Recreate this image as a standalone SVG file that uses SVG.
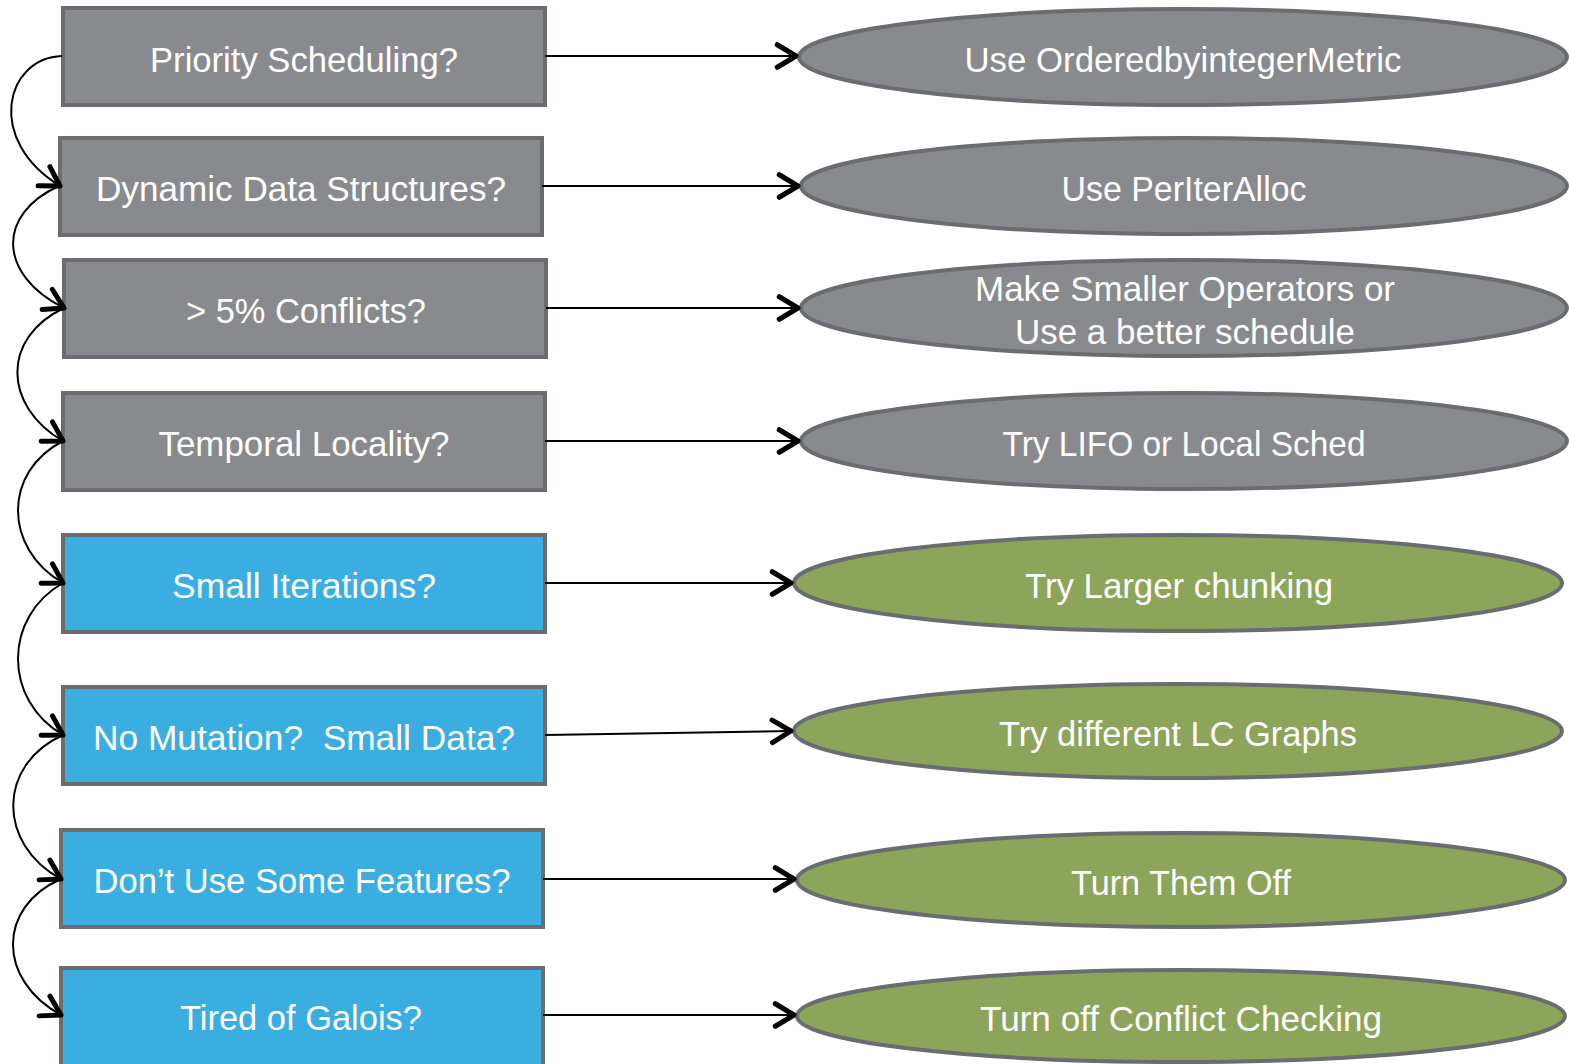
<svg xmlns="http://www.w3.org/2000/svg" width="1569" height="1064" viewBox="0 0 1569 1064">
  <style>
    .box { stroke: #6b6c70; stroke-width: 4; }
    .gray { fill: #898a8e; }
    .blue { fill: #3baee1; }
    .green { fill: #8ca55b; }
    .lbl { font-family: "Liberation Sans", Arial, sans-serif; font-size: 35px; fill: #ffffff; text-anchor: middle; }
    .link { fill: none; stroke: #000000; stroke-width: 2; }
  </style>
  <defs>
    <marker id="chev" markerUnits="userSpaceOnUse" markerWidth="30" markerHeight="30" viewBox="-18 -12 22 24" refX="0" refY="0" orient="auto">
      <path d="M-15,-9 L0,0 L-15,9" fill="none" stroke="#000000" stroke-width="4" stroke-linecap="round" stroke-linejoin="round"/>
    </marker>
  </defs>

  <rect width="1569" height="1064" fill="#ffffff"/>

  <!-- question boxes -->
  <g id="q-priority"><rect class="box gray" x="63" y="8" width="482" height="97"/><text class="lbl" x="304" y="72" textLength="308" lengthAdjust="spacingAndGlyphs">Priority Scheduling?</text></g>
  <g id="q-dynamic"><rect class="box gray" x="60" y="138" width="482" height="97"/><text class="lbl" x="301" y="201" textLength="410" lengthAdjust="spacingAndGlyphs">Dynamic Data Structures?</text></g>
  <g id="q-conflicts"><rect class="box gray" x="64" y="260" width="482" height="97"/><text class="lbl" x="306" y="323" textLength="240" lengthAdjust="spacingAndGlyphs">&gt; 5% Conflicts?</text></g>
  <g id="q-locality"><rect class="box gray" x="63" y="393" width="482" height="97"/><text class="lbl" x="304" y="456" textLength="291" lengthAdjust="spacingAndGlyphs">Temporal Locality?</text></g>
  <g id="q-iterations"><rect class="box blue" x="63" y="535" width="482" height="97"/><text class="lbl" x="304" y="598" textLength="264" lengthAdjust="spacingAndGlyphs">Small Iterations?</text></g>
  <g id="q-mutation"><rect class="box blue" x="63" y="687" width="482" height="97"/><text class="lbl" x="304" y="750" textLength="422" lengthAdjust="spacingAndGlyphs" xml:space="preserve">No Mutation?  Small Data?</text></g>
  <g id="q-features"><rect class="box blue" x="61" y="830" width="482" height="97"/><text class="lbl" x="302" y="893" textLength="417" lengthAdjust="spacingAndGlyphs">Don’t Use Some Features?</text></g>
  <g id="q-tired"><rect class="box blue" x="61" y="968" width="482" height="100"/><text class="lbl" x="301" y="1030" textLength="242" lengthAdjust="spacingAndGlyphs">Tired of Galois?</text></g>

  <!-- answer ellipses -->
  <g id="a-ordered"><ellipse class="box gray" cx="1183" cy="57" rx="384" ry="48"/><text class="lbl" x="1183" y="72" textLength="437" lengthAdjust="spacingAndGlyphs">Use OrderedbyintegerMetric</text></g>
  <g id="a-periter"><ellipse class="box gray" cx="1184" cy="186" rx="383" ry="48"/><text class="lbl" x="1184" y="201" textLength="245" lengthAdjust="spacingAndGlyphs">Use PerIterAlloc</text></g>
  <g id="a-smaller"><ellipse class="box gray" cx="1184" cy="308" rx="383" ry="48"/><text class="lbl" x="1185" y="301" textLength="420" lengthAdjust="spacingAndGlyphs">Make Smaller Operators or</text><text class="lbl" x="1185" y="344" textLength="340" lengthAdjust="spacingAndGlyphs">Use a better schedule</text></g>
  <g id="a-lifo"><ellipse class="box gray" cx="1184" cy="441" rx="383" ry="48"/><text class="lbl" x="1184" y="456" textLength="363" lengthAdjust="spacingAndGlyphs">Try LIFO or Local Sched</text></g>
  <g id="a-chunking"><ellipse class="box green" cx="1178" cy="583" rx="384" ry="48"/><text class="lbl" x="1179" y="598" textLength="308" lengthAdjust="spacingAndGlyphs">Try Larger chunking</text></g>
  <g id="a-lcgraphs"><ellipse class="box green" cx="1178" cy="731" rx="384" ry="47"/><text class="lbl" x="1178" y="746" textLength="358" lengthAdjust="spacingAndGlyphs">Try different LC Graphs</text></g>
  <g id="a-off"><ellipse class="box green" cx="1181" cy="880" rx="384" ry="47"/><text class="lbl" x="1181" y="895" textLength="220" lengthAdjust="spacingAndGlyphs">Turn Them Off</text></g>
  <g id="a-nocheck"><ellipse class="box green" cx="1181" cy="1016" rx="384" ry="46"/><text class="lbl" x="1181" y="1031" textLength="402" lengthAdjust="spacingAndGlyphs">Turn off Conflict Checking</text></g>

  <!-- connectors -->
  <g id="connectors">
    <path class="link" marker-end="url(#chev)" d="M545,56 L796,56"/>
    <path class="link" marker-end="url(#chev)" d="M542,186 L798,186"/>
    <path class="link" marker-end="url(#chev)" d="M546,308 L798,308"/>
    <path class="link" marker-end="url(#chev)" d="M545,441 L798,441"/>
    <path class="link" marker-end="url(#chev)" d="M545,583 L791,583"/>
    <path class="link" marker-end="url(#chev)" d="M545,735 L791,731"/>
    <path class="link" marker-end="url(#chev)" d="M543,879 L794,879"/>
    <path class="link" marker-end="url(#chev)" d="M543,1015 L794,1015"/>

    <path class="link" marker-end="url(#chev)" d="M62,56 C5,58 -15,140 60,186"/>
    <path class="link" marker-end="url(#chev)" d="M59,186 C-3,214 -3,274 64,308"/>
    <path class="link" marker-end="url(#chev)" d="M64,308 C1,338 3,406 63,441"/>
    <path class="link" marker-end="url(#chev)" d="M63,441 C3,472 3,548 63,583"/>
    <path class="link" marker-end="url(#chev)" d="M63,583 C3,617 3,700 63,735"/>
    <path class="link" marker-end="url(#chev)" d="M63,735 C-3,765 -3,844 61,879"/>
    <path class="link" marker-end="url(#chev)" d="M61,879 C-3,907 -3,980 61,1015"/>
  </g>
</svg>
